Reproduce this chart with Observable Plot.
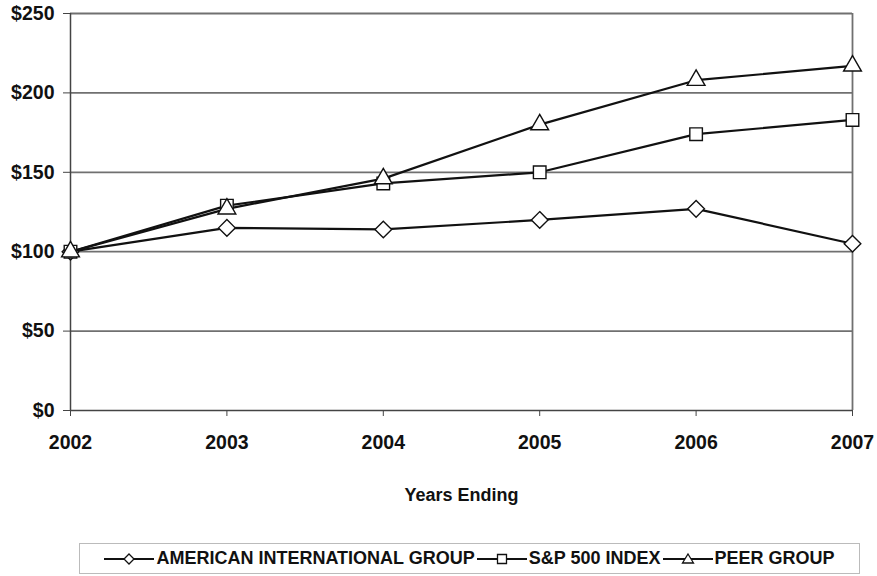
<!DOCTYPE html>
<html><head><meta charset="utf-8">
<script src="https://cdn.jsdelivr.net/npm/d3@7"></script>
<script src="https://cdn.jsdelivr.net/npm/@observablehq/plot@0.6"></script>
<style>
body{margin:0;background:#fff;font-family:"Liberation Sans",Arial,Helvetica,sans-serif;font-weight:bold;}
#chart{position:absolute;left:0;top:0;}
#legend{position:absolute;left:79px;top:543px;width:781px;height:31px;border:1px solid #bbb;display:flex;align-items:center;justify-content:center;font-size:18px;color:#111;box-sizing:border-box;}
#legend .item{display:flex;align-items:center;margin:0 1px;}
#legend svg{margin-right:2px;}
</style></head>
<body>
<div id="chart"></div>
<div id="legend"></div>
<script>
const years = [2002, 2003, 2004, 2005, 2006, 2007];
const seriesNames = ["AMERICAN INTERNATIONAL GROUP", "S&P 500 INDEX", "PEER GROUP"];
const aigValues = [100, 115, 114, 120, 127, 105];
const spValues = [100, 129, 143, 150, 174, 183];
const peerValues = [100, 127, 146, 180, 208, 217];
const yTicks = [0, 50, 100, 150, 200, 250];
const symbols = ["diamond2", "square2", "triangle2"];
const symbolRadius = [7.5, 8, 8.5];

const allSeries = [aigValues, spValues, peerValues];
const data = [];
allSeries.forEach((vals, i) => vals.forEach((v, j) => data.push({series: seriesNames[i], year: years[j], value: v})));

const font = `"Liberation Sans",Arial,Helvetica,sans-serif`;
const chart = Plot.plot({
  width: 877, height: 520,
  marginTop: 13, marginBottom: 110, marginLeft: 70, marginRight: 25,
  style: {fontFamily: font, fontSize: "19.5px", fontWeight: "bold", color: "#111", background: "#fff"},
  x: {domain: [2002, 2007], ticks: years, tickFormat: "d", tickSize: 6, tickPadding: 19,
      label: "Years Ending", labelAnchor: "center", labelArrow: "none", labelOffset: 90},
  y: {domain: [0, 250], ticks: yTicks, tickFormat: d => "$" + d, tickSize: 7, tickPadding: 9, label: null},
  symbol: {domain: seriesNames, range: symbols},
  marks: [
    Plot.ruleY(yTicks.filter(d => d > 0), {stroke: "#707070", strokeWidth: 1.8}),
    Plot.ruleX([2007], {stroke: "#707070", strokeWidth: 1.8}),
    Plot.ruleX([2002], {stroke: "#444", strokeWidth: 1.5}),
    Plot.ruleY([0], {stroke: "#444", strokeWidth: 1.5}),
    Plot.line(data, {x: "year", y: "value", z: "series", stroke: "#111", strokeWidth: 2.2}),
    ...seriesNames.map((name, i) =>
      Plot.dot(data.filter(d => d.series === name), {x: "year", y: "value", symbol: "series", fill: "white", stroke: "#111", strokeWidth: 1.4, r: symbolRadius[i]})
    )
  ]
});
chart.querySelectorAll("[aria-label='y-axis tick'], [aria-label='x-axis tick']").forEach(g => g.setAttribute("stroke", "#444"));
const lab = chart.querySelector("[aria-label='x-axis label']");
if (lab) lab.setAttribute("font-size", "18px");
document.getElementById("chart").appendChild(chart);

// legend
const leg = document.getElementById("legend");
const paths = {
  diamond2: "M0,-5L5,0L0,5L-5,0Z",
  square2: "M-4.5,-4.5H4.5V4.5H-4.5Z",
  triangle2: "M0,-5L5.5,4H-5.5Z"
};
seriesNames.forEach((name, i) => {
  const item = document.createElement("div");
  item.className = "item";
  item.innerHTML = `<svg width="50" height="16" viewBox="-25 -8 50 16"><line x1="-25" x2="25" y1="0" y2="0" stroke="#111" stroke-width="2"/><path d="${paths[symbols[i]]}" fill="white" stroke="#111" stroke-width="1.3"/></svg><span>${name}</span>`;
  leg.appendChild(item);
});
</script>
</body></html>
